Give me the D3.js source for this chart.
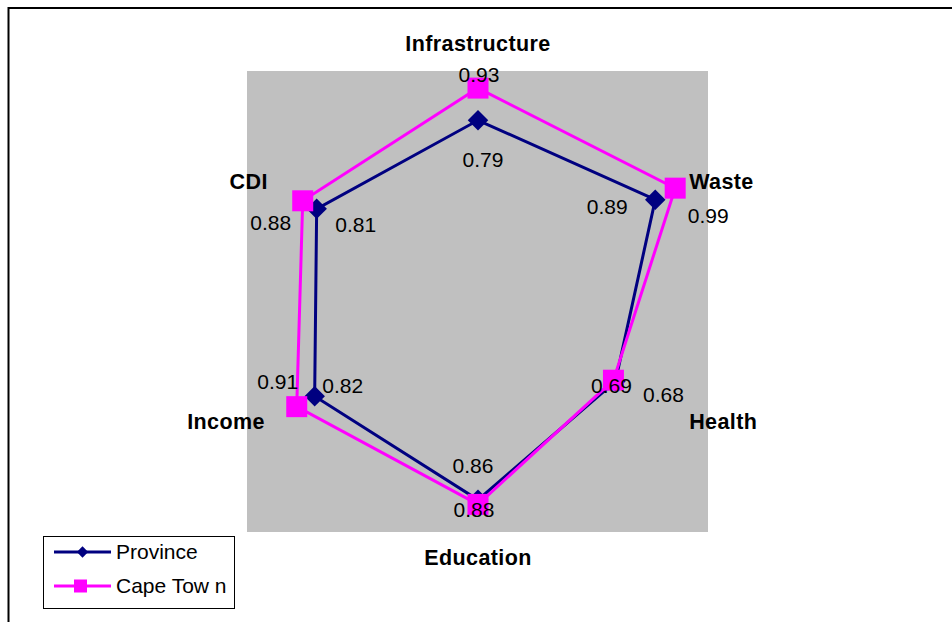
<!DOCTYPE html>
<html>
<head>
<meta charset="utf-8">
<script src="https://cdn.jsdelivr.net/npm/d3@7"></script>
<style>
  html, body { margin: 0; padding: 0; background: #ffffff; }
  svg { display: block; }
  text { font-family: "Liberation Sans", Arial, sans-serif; }
</style>
</head>
<body>
<svg id="chart" width="952" height="622"></svg>
<script>
// ---- data ----
const categories = ["Infrastructure", "Waste", "Health", "Education", "Income", "CDI"];
const seriesNames = ["Province", "Cape Tow n"];
const provinceValues = [0.79, 0.89, 0.69, 0.86, 0.82, 0.81];
const capeTownValues = [0.93, 0.99, 0.68, 0.88, 0.91, 0.88];
const radialDomain = [0, 1];

// ---- layout (label offsets from the marker, pixels) ----
const provinceLabelOffsets = [[5, 47], [-48, 14], [-4, 12], [-5, -27], [28, -3], [39, 23]];
const capeTownLabelOffsets = [[1, -6], [33, 35], [50, 22], [-4, 13], [-19, -18], [-32, 29]];
// category label offsets from the axis end, with anchor
const categoryLabelLayout = [
  { dx: 0, dy: -21, anchor: "middle" },
  { dx: 12, dy: 2, anchor: "start" },
  { dx: 12, dy: 12, anchor: "start" },
  { dx: 0, dy: 33, anchor: "middle" },
  { dx: -14, dy: 12, anchor: "end" },
  { dx: -11, dy: 2, anchor: "end" }
];

const svg = d3.select("#chart");
const cx = 478, cy = 302, R = 230;
const colors = ["#000080", "#FF00FF"];

// outer frame (cut off at right and bottom)
svg.append("rect").attr("x", 8.5).attr("y", 8).attr("width", 1000).attr("height", 700)
  .attr("fill", "none").attr("stroke", "#000").attr("stroke-width", 2);

// plot area
svg.append("rect").attr("x", 247).attr("y", 71).attr("width", 461).attr("height", 461)
  .attr("fill", "#C0C0C0");

const r = d3.scaleLinear().domain(radialDomain).range([0, R]);
const ang = i => i * 2 * Math.PI / categories.length;
const pt = (v, i) => [cx + r(v) * Math.sin(ang(i)), cy - r(v) * Math.cos(ang(i))];

const g = svg.append("g");
const lineGen = d3.lineRadial().angle((d, i) => ang(i)).radius(d => r(d)).curve(d3.curveLinearClosed);

const allSeries = [provinceValues, capeTownValues];

allSeries.forEach((vals, s) => {
  g.append("path").attr("transform", `translate(${cx},${cy})`)
    .attr("d", lineGen(vals)).attr("fill", "none")
    .attr("stroke", colors[s]).attr("stroke-width", 3).attr("stroke-linejoin", "miter");
  vals.forEach((v, i) => {
    const [x, y] = pt(v, i);
    if (s === 0) {
      g.append("path").attr("transform", `translate(${x},${y}) rotate(45)`)
        .attr("d", d3.symbol(d3.symbolSquare, 14.5 * 14.5)())
        .attr("fill", colors[s]);
    } else {
      g.append("path").attr("transform", `translate(${x},${y})`)
        .attr("d", d3.symbol(d3.symbolSquare, 21 * 21)())
        .attr("fill", colors[s]);
    }
  });
});

// data labels
const fmt = d3.format(".2f");
[[provinceValues, provinceLabelOffsets], [capeTownValues, capeTownLabelOffsets]].forEach(([vals, offs]) => {
  vals.forEach((v, i) => {
    const [x, y] = pt(v, i);
    svg.append("text").attr("x", x + offs[i][0]).attr("y", y + offs[i][1])
      .attr("text-anchor", "middle").attr("font-size", 21).attr("fill", "#000")
      .text(fmt(v));
  });
});

// category labels
categories.forEach((c, i) => {
  const [x, y] = pt(radialDomain[1], i);
  const l = categoryLabelLayout[i];
  svg.append("text").attr("x", x + l.dx).attr("y", y + l.dy)
    .attr("text-anchor", l.anchor).attr("font-size", 21.5).attr("font-weight", "bold")
    .attr("letter-spacing", 0.4)
    .attr("fill", "#000").text(c);
});

// legend
const lg = svg.append("g");
lg.append("rect").attr("x", 43.5).attr("y", 536.5).attr("width", 191).attr("height", 72)
  .attr("fill", "#fff").attr("stroke", "#000").attr("stroke-width", 1);
seriesNames.forEach((name, s) => {
  const y = [552, 586][s];
  lg.append("line").attr("x1", 54).attr("x2", 111).attr("y1", y).attr("y2", y)
    .attr("stroke", colors[s]).attr("stroke-width", 3);
  if (s === 0) {
    lg.append("path").attr("transform", `translate(82.5,${y}) rotate(45)`)
      .attr("d", d3.symbol(d3.symbolSquare, 8 * 8)()).attr("fill", colors[s]);
  } else {
    lg.append("path").attr("transform", `translate(80.5,${y})`)
      .attr("d", d3.symbol(d3.symbolSquare, 13 * 13)()).attr("fill", colors[s]);
  }
  lg.append("text").attr("x", 116).attr("y", y + 7).attr("font-size", 21).attr("fill", "#000").text(name);
});
</script>
</body>
</html>
